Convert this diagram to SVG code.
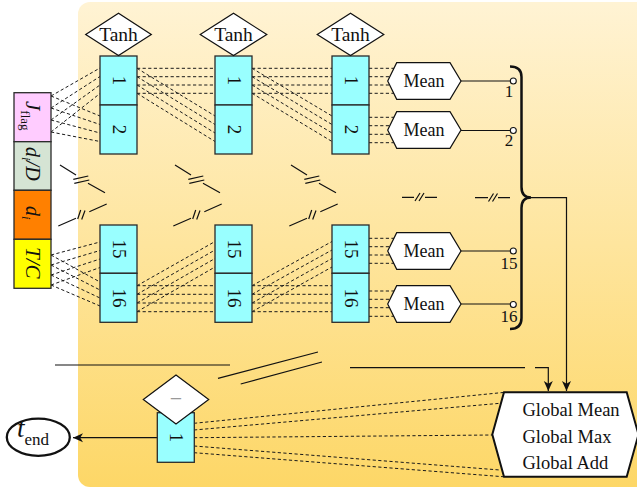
<svg xmlns="http://www.w3.org/2000/svg" width="637" height="488" viewBox="0 0 637 488">
<defs>
<linearGradient id="bg" x1="0" y1="0" x2="0" y2="1">
<stop offset="0" stop-color="#fff3d4"/>
<stop offset="1" stop-color="#fdd767"/>
</linearGradient>
<marker id="arr" markerUnits="userSpaceOnUse" markerWidth="11" markerHeight="10" refX="10" refY="5" orient="auto">
<path d="M0,0.5 L10,5 L0,9.5 L2.8,5 Z" fill="#111"/>
</marker>
</defs>
<style>
.node{fill:#99ffff;stroke:#2a2a2a;stroke-width:1.3}
.dia{fill:#fff;stroke:#111;stroke-width:1.2}
.hex{fill:#fff;stroke:#111;stroke-width:1.2}
.d{stroke:#1a1a1a;stroke-width:1;stroke-dasharray:3.2 2.4;fill:none}
.s{stroke:#111;stroke-width:1.2;fill:none}
.t{font-family:"Liberation Serif","DejaVu Serif",serif;fill:#111}
.it{font-style:italic}
</style>
<rect x="78" y="2" width="580" height="485" rx="12" fill="url(#bg)"/>

<g id="connectors">
<path class="d" d="M51,96 L100,68 M51,108 L100,76.5 M51,120 L100,85 M51,132 L100,93.5 M51,96 L100,116 M51,108 L100,124.5 M51,120 L100,133 M51,132 L100,141.5"/>
<path class="d" d="M51,255 L100,242 M51,265 L100,250.5 M51,275 L100,259 M51,285 L100,267.5 M51,255 L100,282 M51,265 L100,290 M51,275 L100,298 M51,285 L100,306"/>
<path class="d" d="M137,68.3 H215 M137,76.7 H215 M137,85 H215 M137,93.3 H215 M137,68.3 L215,116 M137,76.7 L215,124.5 M137,85 L215,133 M137,93.3 L215,141.5"/>
<path class="d" d="M137,285.7 H215 M137,294.3 H215 M137,303 H215 M137,311.7 H215 M137,285.7 L215,241.5 M137,294.3 L215,250 M137,303 L215,258.5 M137,311.7 L215,267"/>
<path class="d" d="M252,68.3 H332 M252,76.7 H332 M252,85 H332 M252,93.3 H332 M252,68.3 L332,116 M252,76.7 L332,124.5 M252,85 L332,133 M252,93.3 L332,141.5"/>
<path class="d" d="M252,285.7 H332 M252,294.3 H332 M252,303 H332 M252,311.7 H332 M252,285.7 L332,241.5 M252,294.3 L332,250 M252,303 L332,258.5 M252,311.7 L332,267"/>
<path class="d" d="M369,68.3 H396 M369,76.7 H396 M369,85 H396 M369,93.3 H396 M369,117.3 H396 M369,125.7 H396 M369,134.3 H396 M369,142.7 H396"/>
<path class="d" d="M369,238.3 H396 M369,246.7 H396 M369,255 H396 M369,263.3 H396 M369,291 H396 M369,299.3 H396 M369,307.7 H396 M369,316.3 H396"/>
<g id="skips" class="s" stroke-width="1.1">
<path d="M60,165 L76,175 M88,183.3 L105,192.7 M73.3,179.3 L88.3,176 M74.3,183.3 L89.3,180"/>
<path d="M58.3,226 L76,218.3 M89.3,211.7 L106.7,204 M77.7,219 L80.7,210 M81.7,219.5 L85,210.5"/>
<path d="M175,165 L191,175 M203,183.3 L220,192.7 M188.3,179.3 L203.3,176 M189.3,183.3 L204.3,180"/>
<path d="M173.3,226 L191,218.3 M204.3,211.7 L221.7,204 M192.7,219 L195.7,210 M196.7,219.5 L200,210.5"/>
<path d="M291,165 L307,175 M319,183.3 L336,192.7 M304.3,179.3 L319.3,176 M305.3,183.3 L320.3,180"/>
<path d="M289.3,226 L307,218.3 M320.3,211.7 L337.7,204 M308.7,219 L311.7,210 M312.7,219.5 L316,210.5"/>
<path d="M402,197.3 H414 M425,197.3 H437 M415,201 L420,193 M419,201 L424,193"/>
<path d="M475,197.7 H488 M498,197.7 H510 M488.5,201.5 L493.5,193.5 M492.5,201.5 L497.5,193.5"/>
</g>
<path class="s" d="M461,81 H510.3 M461,130.5 H510.3 M461,251 H510.3 M461,304 H510.3"/>
<circle cx="513.3" cy="81" r="3" fill="#fff" stroke="#111" stroke-width="1.1"/>
<circle cx="513.3" cy="130.5" r="3" fill="#fff" stroke="#111" stroke-width="1.1"/>
<circle cx="513.3" cy="251" r="3" fill="#fff" stroke="#111" stroke-width="1.1"/>
<circle cx="513.3" cy="304.5" r="3" fill="#fff" stroke="#111" stroke-width="1.1"/>
<path d="M510,66.5 Q521.5,66.5 521.5,77 L521.5,187 Q521.5,197.5 531,197.5 Q521.5,197.5 521.5,208 L521.5,318 Q521.5,329 510,329" fill="none" stroke="#111" stroke-width="2.5"/>
<path class="s" d="M531,197.7 H566.5 V391" marker-end="url(#arr)"/>
<path class="s" d="M55,365 H230 M218,378.3 L318,352 M240.7,384 L322,362 M350,367.7 H525 M535,367.7 H548.3 V391" marker-end="url(#arr)"/>
<path class="d" d="M194,423.3 L503,392.5 M194,430 L500,403.3 M194,437.7 L492,435 M194,446 L500,470 M194,452.7 L503,476.7"/>
<path class="s" d="M157,437.7 H73" marker-end="url(#arr)"/>
</g>

<g id="inputs">
<rect x="14" y="92.7" width="37" height="49" fill="#ffccff" stroke="#2a2a2a" stroke-width="1.3"/>
<rect x="14" y="141.7" width="37" height="48.6" fill="#d5e4d4" stroke="#2a2a2a" stroke-width="1.3"/>
<rect x="14" y="190.3" width="37" height="49" fill="#ff8000" stroke="#2a2a2a" stroke-width="1.3"/>
<rect x="14" y="239.3" width="37" height="49" fill="#ffff00" stroke="#2a2a2a" stroke-width="1.3"/>
<text class="t" transform="translate(26,101) rotate(90)" font-size="21"><tspan class="it">J</tspan><tspan font-size="13" dy="5">flag</tspan></text>
<text class="t it" transform="translate(26,147) rotate(90)" font-size="20">d<tspan font-size="13" dy="4">i</tspan><tspan dy="-4">/D</tspan></text>
<text class="t it" transform="translate(26,206) rotate(90)" font-size="20">d<tspan font-size="13" dy="4">i</tspan></text>
<text class="t it" transform="translate(26,247) rotate(90)" font-size="21">T/C</text>
</g>

<g id="col1">
<rect class="node" x="100" y="56" width="37" height="49"/>
<rect class="node" x="100" y="105" width="37" height="49"/>
<rect class="node" x="100" y="225" width="37" height="48.3"/>
<rect class="node" x="100" y="273.3" width="37" height="49"/>
<polygon class="dia" points="85.7,34.5 118.5,13.3 151.3,34.5 118.5,55.5"/>
<text class="t" x="118.5" y="41" font-size="19.5" text-anchor="middle">Tanh</text>
<text class="t" transform="translate(112.5,80.5) rotate(90)" font-size="19" text-anchor="middle">1</text>
<text class="t" transform="translate(112.5,129.5) rotate(90)" font-size="19" text-anchor="middle">2</text>
<text class="t" transform="translate(112.5,249) rotate(90)" font-size="19" text-anchor="middle">15</text>
<text class="t" transform="translate(112.5,298) rotate(90)" font-size="19" text-anchor="middle">16</text>
</g>
<g id="col2">
<rect class="node" x="215" y="56" width="37" height="49"/>
<rect class="node" x="215" y="105" width="37" height="49"/>
<rect class="node" x="215" y="225" width="37" height="48.3"/>
<rect class="node" x="215" y="273.3" width="37" height="49"/>
<polygon class="dia" points="200.2,34.5 233.5,13.3 266.8,34.5 233.5,55.5"/>
<text class="t" x="233.5" y="41" font-size="19.5" text-anchor="middle">Tanh</text>
<text class="t" transform="translate(227.5,80.5) rotate(90)" font-size="19" text-anchor="middle">1</text>
<text class="t" transform="translate(227.5,129.5) rotate(90)" font-size="19" text-anchor="middle">2</text>
<text class="t" transform="translate(227.5,249) rotate(90)" font-size="19" text-anchor="middle">15</text>
<text class="t" transform="translate(227.5,298) rotate(90)" font-size="19" text-anchor="middle">16</text>
</g>
<g id="col3">
<rect class="node" x="332" y="56" width="37" height="49"/>
<rect class="node" x="332" y="105" width="37" height="49"/>
<rect class="node" x="332" y="225" width="37" height="48.3"/>
<rect class="node" x="332" y="273.3" width="37" height="49"/>
<polygon class="dia" points="317.2,34.5 350.5,13.3 383.8,34.5 350.5,55.5"/>
<text class="t" x="350.5" y="41" font-size="19.5" text-anchor="middle">Tanh</text>
<text class="t" transform="translate(344.5,80.5) rotate(90)" font-size="19" text-anchor="middle">1</text>
<text class="t" transform="translate(344.5,129.5) rotate(90)" font-size="19" text-anchor="middle">2</text>
<text class="t" transform="translate(344.5,249) rotate(90)" font-size="19" text-anchor="middle">15</text>
<text class="t" transform="translate(344.5,298) rotate(90)" font-size="19" text-anchor="middle">16</text>
</g>

<g id="means">
<polygon class="hex" points="387.7,81 396.7,62.7 450,62.7 461,81 450,99.3 396.7,99.3"/>
<polygon class="hex" points="387.7,130 396.7,111.7 450,111.7 461,130 450,148.3 396.7,148.3"/>
<polygon class="hex" points="387.7,251 396.7,232.7 450,232.7 461,251 450,269.3 396.7,269.3"/>
<polygon class="hex" points="387.7,304 396.7,285.7 450,285.7 461,304 450,322.3 396.7,322.3"/>
<text class="t" x="424" y="87" font-size="18" text-anchor="middle">Mean</text>
<text class="t" x="424" y="136" font-size="18" text-anchor="middle">Mean</text>
<text class="t" x="424" y="257" font-size="18" text-anchor="middle">Mean</text>
<text class="t" x="424" y="310" font-size="18" text-anchor="middle">Mean</text>
<text class="t" x="509" y="97" font-size="17" text-anchor="middle">1</text>
<text class="t" x="509" y="146" font-size="17" text-anchor="middle">2</text>
<text class="t" x="509" y="268.5" font-size="17" text-anchor="middle">15</text>
<text class="t" x="509" y="322" font-size="17" text-anchor="middle">16</text>
</g>

<g id="global">
<polygon points="504,392.3 626.7,392.3 638.5,434.5 626.7,476.7 504,476.7 492.3,434.5" fill="#fff" stroke="#111" stroke-width="2"/>
<text class="t" x="522.5" y="416" font-size="18.5">Global Mean</text>
<text class="t" x="522.5" y="442.5" font-size="18.5">Global Max</text>
<text class="t" x="522.5" y="469" font-size="18.5">Global Add</text>
</g>

<g id="final">
<rect class="node" x="157.3" y="412.7" width="37" height="49.6"/>
<text class="t" transform="translate(169.5,437.5) rotate(90)" font-size="19" text-anchor="middle">1</text>
<polygon class="dia" points="143.3,399.5 176,375 208.7,399.5 176,424"/>
<text class="t" x="176" y="406" font-size="22" text-anchor="middle" style="fill:#999">−</text>
</g>

<g id="tend">
<ellipse cx="38.3" cy="437.2" rx="31.5" ry="18.6" fill="#fff" stroke="#111" stroke-width="2.3"/>
<text class="t" x="17" y="437" font-size="27"><tspan class="it">t</tspan><tspan font-size="17" dy="8">end</tspan></text>
</g>
</svg>
